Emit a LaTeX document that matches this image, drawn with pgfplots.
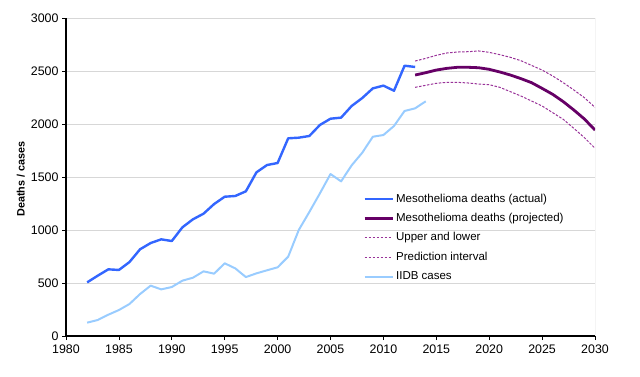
\documentclass[border=0pt]{standalone}
\usepackage{fontspec}
\setmainfont{Liberation Sans}
\usepackage{pgfplots}
\pgfplotsset{compat=1.18}
\definecolor{actual}{RGB}{51,102,255}
\definecolor{proj}{RGB}{102,0,102}
\definecolor{interval}{RGB}{153,51,153}
\definecolor{iidb}{RGB}{153,204,255}
\definecolor{gridc}{RGB}{215,215,215}
\begin{document}
\begin{tikzpicture}[x=1pt,y=1pt]
\useasboundingbox (0,0) rectangle (640,376);
\begin{axis}[
  at={(66pt,40pt)}, anchor=south west,
  width=529pt, height=318pt, scale only axis,
  xmin=1980, xmax=2030, ymin=0, ymax=3000,
  xtick={1980,1985,...,2030}, ytick={0,500,...,3000},
  /pgf/number format/1000 sep={},
  /pgf/number format/assume math mode=true,
  ticklabel style={font=\fontsize{12.4}{14}\selectfont},
  xticklabel style={yshift=-1pt},
  tick align=outside, major tick length=4pt,
  tick style={black, line width=0.8pt},
  axis x line*=bottom, axis y line*=left,
  axis line style={black, line width=1.6pt, -},
  ymajorgrids, grid style={gridc, line width=0.6pt},
  ylabel={\bfseries Deaths / cases},
  ylabel style={font=\fontsize{10.8}{12}\selectfont, at={(axis description cs:-0.0856,0.494)}, anchor=center},
  legend cell align=left,
  legend style={at={(axis description cs:0.556,0.456)}, anchor=north west, draw=none, fill=none,
    nodes={font=\fontsize{11.5}{13}\selectfont, inner ysep=0pt, inner xsep=2pt, text height=9pt, text depth=3pt},
    row sep=7.4pt},
  legend image code/.code={\draw[#1] (0pt,0pt) -- (28pt,0pt);},
]
\addplot[actual, line width=2.4pt, line join=round] coordinates {
(1982,506) (1983,569) (1984,629) (1985,623) (1986,698) (1987,818) (1988,877) (1989,912) (1990,896)
(1991,1025) (1992,1101) (1993,1154) (1994,1245) (1995,1314) (1996,1321) (1997,1365) (1998,1544)
(1999,1613) (2000,1632) (2001,1865) (2002,1871) (2003,1887) (2004,1991) (2005,2050) (2006,2060)
(2007,2170) (2008,2245) (2009,2336) (2010,2362) (2011,2314) (2012,2550) (2013,2538)};
\addlegendentry{Mesothelioma deaths (actual)}
\addplot[proj, line width=2.8pt, line join=round] coordinates {
(2013,2462) (2014,2484) (2015,2509) (2016,2525) (2017,2535) (2018,2535) (2019,2531) (2020,2516)
(2021,2491) (2022,2462) (2023,2428) (2024,2390) (2025,2336) (2026,2280) (2027,2211) (2028,2132)
(2029,2047) (2030,1943)};
\addlegendentry{Mesothelioma deaths (projected)}
\addplot[interval, line width=1pt, dash pattern=on 2.5pt off 1.5pt] coordinates {
(2013,2594) (2014,2619) (2015,2648) (2016,2670) (2017,2679) (2018,2682) (2019,2689) (2020,2676)
(2021,2654) (2022,2629) (2023,2597) (2024,2553) (2025,2509) (2026,2453) (2027,2390) (2028,2321)
(2029,2248) (2030,2157)};
\addlegendentry{Upper and lower}
\addplot[interval, line width=1pt, dash pattern=on 2.5pt off 1.5pt] coordinates {
(2013,2346) (2014,2365) (2015,2384) (2016,2393) (2017,2393) (2018,2387) (2019,2377) (2020,2371)
(2021,2346) (2022,2305) (2023,2264) (2024,2217) (2025,2170) (2026,2107) (2027,2044) (2028,1959)
(2029,1871) (2030,1771)};
\addlegendentry{Prediction interval}
\addplot[iidb, line width=2pt, line join=round] coordinates {
(1982,126) (1983,151) (1984,201) (1985,245) (1986,302) (1987,396) (1988,475) (1989,440) (1990,462)
(1991,522) (1992,550) (1993,610) (1994,588) (1995,686) (1996,638) (1997,556) (1998,591) (1999,620)
(2000,648) (2001,748) (2002,1000) (2003,1170) (2004,1346) (2005,1528) (2006,1459) (2007,1610)
(2008,1729) (2009,1880) (2010,1896) (2011,1981) (2012,2123) (2013,2148) (2014,2214)};
\addlegendentry{IIDB cases}
\draw[gray!70, line width=0.8pt] (rel axis cs:1,0) -- (rel axis cs:1,1);
\end{axis}
\end{tikzpicture}
\end{document}
